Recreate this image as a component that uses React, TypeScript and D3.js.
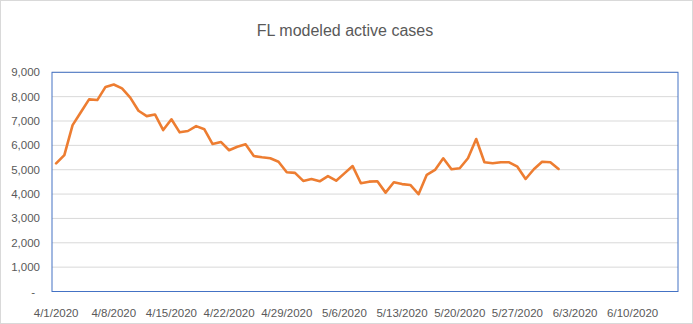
import React from "react";
import * as d3 from "d3";

const title = "FL modeled active cases";
const startDate = new Date(2020, 3, 1);
const endDate = new Date(2020, 5, 16); // exclusive bucket end (axis through 6/15)
const activeCases = [
  5260, 5600, 6830, 7360, 7890, 7860, 8400, 8500, 8340, 7960,
  7420, 7200, 7270, 6630, 7070, 6535, 6590, 6790, 6660, 6055,
  6140, 5800, 5945, 6045, 5560, 5510, 5470, 5330, 4895, 4870,
  4540, 4620, 4525, 4740, 4550, 4850, 5150, 4445, 4510, 4525,
  4060, 4485, 4410, 4375, 3995, 4790, 4990, 5470, 5020, 5060,
  5470, 6260, 5305, 5265, 5305, 5305, 5125, 4620, 5020, 5330,
  5305, 5030,
];
const yTicks = [0, 1000, 2000, 3000, 4000, 5000, 6000, 7000, 8000, 9000];
const xTickDates = [
  "4/1/2020", "4/8/2020", "4/15/2020", "4/22/2020", "4/29/2020", "5/6/2020",
  "5/13/2020", "5/20/2020", "5/27/2020", "6/3/2020", "6/10/2020",
];

const W = 693;
const H = 324;
const left = 52;
const right = 678;
const top = 72.3;
const bottom = 291.5;
const DAY = 86400000;

export default function App() {
  const nDays = Math.round((endDate.getTime() - startDate.getTime()) / DAY);
  const x = d3.scaleLinear().domain([0, nDays]).range([left, right]);
  const y = d3.scaleLinear().domain([0, 9000]).range([bottom, top]);
  const dayIndex = (s: string) => {
    const [m, d, yr] = s.split("/").map(Number);
    return Math.round((new Date(yr, m - 1, d).getTime() - startDate.getTime()) / DAY);
  };
  const line = d3
    .line<number>()
    .x((_, i) => x(i + 0.5))
    .y((v) => y(v));
  const fmt = d3.format(",");
  const font = "'Liberation Sans', Arial, sans-serif";
  return (
    <svg
      width={W}
      height={H}
      style={{ position: "absolute", left: 0, top: 0 }}
      fontFamily={font}
    >
      <rect x={0.5} y={0.5} width={W - 1} height={H - 1} fill="#fff" stroke="#d9d9d9" />
      <text x={345} y={36} textAnchor="middle" fontSize={16} fill="#595959">
        {title}
      </text>
      {yTicks.slice(1).map((t) => (
        <line key={t} x1={left} x2={right} y1={y(t)} y2={y(t)} stroke="#d9d9d9" strokeWidth={1} />
      ))}
      <rect
        x={left}
        y={top}
        width={right - left}
        height={bottom - top}
        fill="none"
        stroke="#4472c4"
        strokeWidth={1}
      />
      {yTicks.map((t) => (
        <text
          key={t}
          x={t === 0 ? 35 : 40}
          y={y(t)}
          dy="0.35em"
          textAnchor="end"
          fontSize={11.5}
          fill="#595959"
        >
          {t === 0 ? "-" : fmt(t)}
        </text>
      ))}
      {xTickDates.map((s) => (
        <text
          key={s}
          x={x(dayIndex(s) + 0.5)}
          y={313}
          dy="0.35em"
          textAnchor="middle"
          fontSize={11.5}
          fill="#595959"
        >
          {s}
        </text>
      ))}
      <path
        d={line(activeCases) || ""}
        fill="none"
        stroke="#ed7d31"
        strokeWidth={2.6}
        strokeLinejoin="round"
        strokeLinecap="round"
      />
    </svg>
  );
}
